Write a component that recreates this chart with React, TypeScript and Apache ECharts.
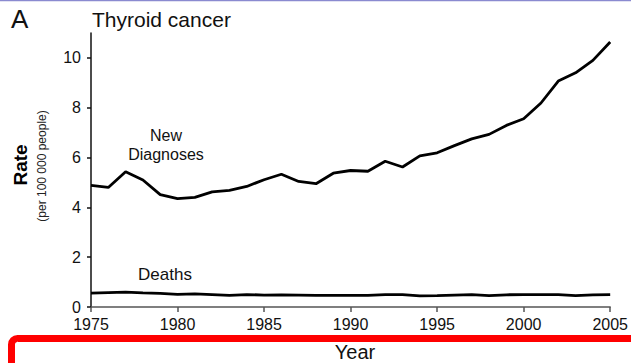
import React, { useEffect, useRef } from "react";
import * as echarts from "echarts";

// Thyroid cancer rates per 100 000 people, 1975–2005
const years: number[] = [
  1975, 1976, 1977, 1978, 1979, 1980, 1981, 1982, 1983, 1984, 1985, 1986, 1987, 1988, 1989, 1990,
  1991, 1992, 1993, 1994, 1995, 1996, 1997, 1998, 1999, 2000, 2001, 2002, 2003, 2004, 2005,
];
const newDiagnoses: number[] = [
  4.88, 4.8, 5.43, 5.1, 4.51, 4.35, 4.4, 4.62, 4.68, 4.84, 5.11, 5.33, 5.04, 4.95, 5.37, 5.48,
  5.45, 5.85, 5.62, 6.07, 6.19, 6.48, 6.75, 6.93, 7.29, 7.56, 8.19, 9.07, 9.4, 9.9, 10.64,
];
const deaths: number[] = [
  0.56, 0.58, 0.6, 0.57, 0.55, 0.51, 0.53, 0.5, 0.47, 0.5, 0.48, 0.49, 0.48, 0.47, 0.47, 0.47,
  0.47, 0.5, 0.5, 0.45, 0.46, 0.48, 0.5, 0.46, 0.49, 0.5, 0.5, 0.5, 0.46, 0.49, 0.5,
];
const yTicks: number[] = [0, 2, 4, 6, 8, 10];
const xTicks: number[] = [1975, 1980, 1985, 1990, 1995, 2000, 2005];

const FONT = "'Liberation Sans', Arial, Helvetica, sans-serif";

export default function App() {
  const ref = useRef<HTMLDivElement>(null);

  useEffect(() => {
    if (!ref.current) return;
    const chart = echarts.init(ref.current, null, { renderer: "svg" });
    const pairs = (vals: number[]) => years.map((y, i) => [y, vals[i]]);

    chart.setOption({
      animation: false,
      backgroundColor: "#ffffff",
      grid: { left: 91, right: 20, top: 33, bottom: 56, containLabel: false },
      xAxis: {
        type: "value",
        min: 1975,
        max: 2005,
        interval: 5,
        axisLine: { lineStyle: { color: "#555555", width: 1.5 } },
        axisTick: { show: true, length: 5, lineStyle: { color: "#555555", width: 1.5 }, customValues: xTicks },
        axisLabel: {
          customValues: xTicks,
          formatter: (v: number) => String(v),
          color: "#111111",
          fontSize: 16,
          fontFamily: FONT,
          margin: 9,
        },
        splitLine: { show: false },
      },
      yAxis: {
        type: "value",
        min: 0,
        max: 11,
        axisLine: { show: true, lineStyle: { color: "#111111", width: 1.5 } },
        axisTick: { show: true, length: 4, lineStyle: { color: "#111111", width: 1.5 }, customValues: yTicks },
        axisLabel: {
          customValues: yTicks,
          color: "#111111",
          fontSize: 16,
          fontFamily: FONT,
          margin: 10,
        },
        splitLine: { show: false },
      },
      series: [
        {
          name: "New Diagnoses",
          type: "line",
          data: pairs(newDiagnoses),
          showSymbol: false,
          lineStyle: { color: "#000000", width: 2.8 },
        },
        {
          name: "Deaths",
          type: "line",
          data: pairs(deaths),
          showSymbol: false,
          lineStyle: { color: "#000000", width: 2.8 },
        },
      ],
      graphic: [
        {
          type: "line",
          shape: { x1: 0, y1: 0.5, x2: 631, y2: 0.5 },
          style: { stroke: "#8a8ad0", lineWidth: 1.5 },
        },
        {
          type: "text",
          x: 11,
          y: 19,
          style: { text: "A", fontSize: 26, fontFamily: FONT, fill: "#111111", align: "left", verticalAlign: "middle" },
        },
        {
          type: "text",
          x: 92,
          y: 19,
          style: { text: "Thyroid cancer", fontSize: 21, fontFamily: FONT, fill: "#111111", align: "left", verticalAlign: "middle" },
        },
        {
          type: "text",
          x: 166,
          y: 135,
          style: { text: "New", fontSize: 16, fontFamily: FONT, fill: "#111111", align: "center", verticalAlign: "middle" },
        },
        {
          type: "text",
          x: 166,
          y: 154,
          style: { text: "Diagnoses", fontSize: 16, fontFamily: FONT, fill: "#111111", align: "center", verticalAlign: "middle" },
        },
        {
          type: "text",
          x: 165,
          y: 274,
          style: { text: "Deaths", fontSize: 17, fontFamily: FONT, fill: "#111111", align: "center", verticalAlign: "middle" },
        },
        {
          type: "text",
          x: 20,
          y: 165,
          rotation: Math.PI / 2,
          style: { text: "Rate", fontSize: 19, fontWeight: "bold", fontFamily: FONT, fill: "#000000", align: "center", verticalAlign: "middle" },
        },
        {
          type: "text",
          x: 42,
          y: 166,
          rotation: Math.PI / 2,
          style: { text: "(per 100 000 people)", fontSize: 12, fontFamily: FONT, fill: "#222222", align: "center", verticalAlign: "middle" },
        },
        {
          type: "rect",
          shape: { x: 11.5, y: 338.5, width: 640, height: 60, r: 6 },
          style: { fill: "none", stroke: "#ff0000", lineWidth: 7 },
        },
        {
          type: "text",
          x: 355,
          y: 352,
          style: { text: "Year", fontSize: 20, fontFamily: FONT, fill: "#111111", align: "center", verticalAlign: "middle" },
        },
      ],
    });

    return () => chart.dispose();
  }, []);

  return (
    <div
      ref={ref}
      style={{ position: "fixed", left: 0, top: 0, width: 631, height: 363 }}
    />
  );
}
